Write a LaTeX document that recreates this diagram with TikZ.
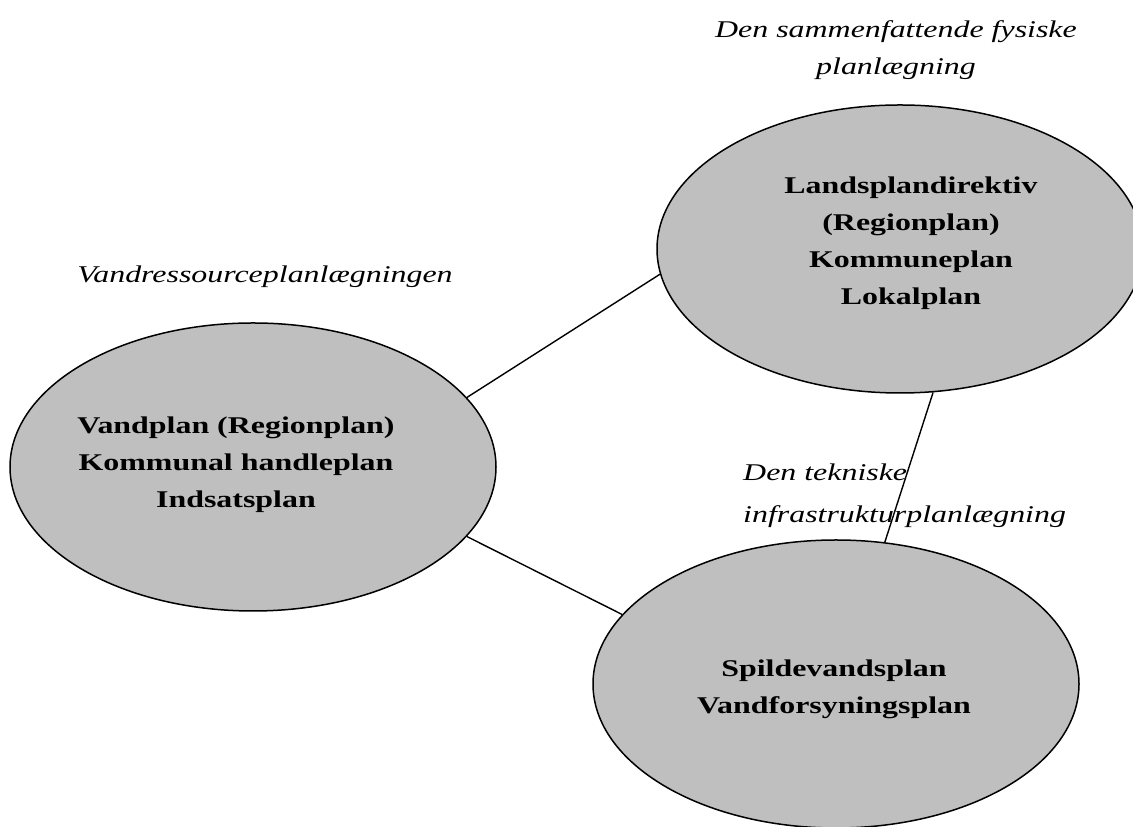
\documentclass[tikz,border=0pt]{standalone}
\usepackage{fontspec}
\setmainfont{Liberation Serif}[FakeStretch=1.33]
\usetikzlibrary{shapes.geometric}

\tikzset{
    plan/.style = {ellipse, draw, fill = black!25, line width = 1.5pt,
        minimum width = 486pt, minimum height = 288pt},
    plantext/.style = {font = \fontsize{24}{37}\selectfont\bfseries,
        align = center, inner sep = 0pt},
    area/.style = {font = \fontsize{24}{37}\selectfont\itshape, inner sep = 0pt},
    link/.style = {line width = 1.4pt}
}

\begin{document}
\begin{tikzpicture}[x = 1pt, y = 1pt]
        \useasboundingbox (0,0) rectangle (1133,827);

        \node [plan] (vand) at (253,360) {};
        \node [plan] (lands) at (900,578) {};
        \node [plan] (spild) at (836,143) {};

        \node [plantext] (vandtext) at (236,362)
            {Vandplan (Regionplan)\\ Kommunal handleplan\\ Indsatsplan};
        \node [plantext] (landstext) at (911,583.5)
            {Landsplandirektiv\\ (Regionplan)\\ Kommuneplan\\ Lokalplan};
        \node [plantext] (spildtext) at (834,138)
            {Spildevandsplan\\ Vandforsyningsplan};

        \node [area, align = center] (fysisk) at (896,777)
            {Den sammenfattende fysiske\\ planlægning};
        \node [area, anchor = base] (ressource) at (265,544)
            {Vandressourceplanlægningen};

        \draw [link] (vand.18) -- (lands.186);
        \draw [link] (vand.-18) -- (spild.162);
        \draw [link] (lands.-77) -- (spild.71);

        \node [area, align = left, anchor = west,
            font = \fontsize{24}{42}\selectfont\itshape] (teknisk) at (743,331.5)
            {Den tekniske\\ infrastrukturplanlægning};
    \end{tikzpicture}
\end{document}
